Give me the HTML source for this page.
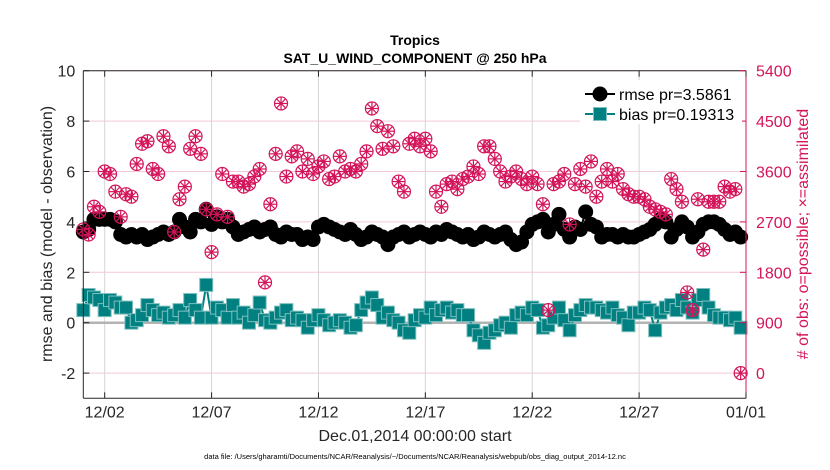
<!DOCTYPE html>
<html><head><meta charset="utf-8"><style>
body{margin:0;background:#fff;}
svg{display:block;font-family:"Liberation Sans",Arial,sans-serif;}
</style></head><body>
<svg id="chart" width="830" height="470" viewBox="0 0 830 470" xmlns="http://www.w3.org/2000/svg">
<rect width="830" height="470" fill="#fff"/>
<text x="415" y="45" text-anchor="middle" font-size="14" font-weight="bold">Tropics</text>
<text x="415" y="63" text-anchor="middle" font-size="14" font-weight="bold">SAT_U_WIND_COMPONENT @ 250 hPa</text>
<g id="grid"></g>
<g id="marks"></g>
<g id="axes"></g>
<text transform="translate(52,234) rotate(-90)" text-anchor="middle" font-size="16" fill="#262626">rmse and bias (model - observation)</text>
<text transform="translate(808,234) rotate(-90)" text-anchor="middle" font-size="16" fill="#d4145a">#  of obs: o=possible; ×=assimilated</text>
<text x="415" y="441" text-anchor="middle" font-size="16" fill="#262626">Dec.01,2014 00:00:00 start</text>
<text x="415" y="459" text-anchor="middle" font-size="7.5" fill="#000">data file: /Users/gharamti/Documents/NCAR/Reanalysis/~/Documents/NCAR/Reanalysis/webpub/obs_diag_output_2014-12.nc</text>
<g id="legend">
<rect x="580" y="80" width="162" height="44" fill="#fff"/>
<line x1="585" y1="94" x2="615" y2="94" stroke="#000" stroke-width="2"/>
<circle cx="600" cy="94" r="7.5" fill="#000"/>
<text x="619" y="100" font-size="16" fill="#000">rmse pr=3.5861</text>
<line x1="585" y1="114" x2="615" y2="114" stroke="#008080" stroke-width="2"/>
<rect x="593.5" y="107.5" width="13" height="13" fill="#008080" stroke="#7fbfbf" stroke-width="1"/>
<text x="619" y="120" font-size="16" fill="#000">bias pr=0.19313</text>
</g>
</svg>
<script>
const rmse=[3.6,3.7,4.1,4.1,4.1,4.1,4.0,3.5, 3.4,3.5,3.4,3.5,3.3,3.4,3.5,3.6, 3.5,3.6,4.1,3.8,3.6,4.1,4.0,4.5, 3.9,4.2,4.0,4.1,3.8,3.5,3.6,3.7, 3.8,3.6,3.7,3.8,3.5,3.4,3.6,3.5, 3.5,3.3,3.4,3.3,3.8,3.9,3.8,3.7, 3.6,3.5,3.7,3.5,3.3,3.4,3.6,3.5, 3.4,3.1,3.4,3.5,3.6,3.4,3.5,3.6, 3.5,3.4,3.6,3.5,3.7,3.6,3.5,3.4, 3.5,3.3,3.4,3.6,3.5,3.4,3.5,3.6, 3.3,3.1,3.2,3.6,3.9,4.0,4.1,3.6, 3.9,4.3,3.7,3.4,3.8,3.7,4.4,3.9, 3.8,3.4,3.5,3.5,3.4,3.5,3.4,3.4, 3.5,3.6,3.7,3.9,4.1,4.0,3.4,3.7, 4.0,3.8,3.4,3.6,3.9,4.0,4.0,3.9, 3.7,3.5,3.6,3.4];
const bias=[0.5,1.1,1.0,0.9,0.5,0.9,0.8,0.6, 0.6,0.0,0.1,0.3,0.7,0.5,0.3,0.4, 0.2,0.3,0.5,0.2,0.9,0.5,0.2,1.5, 0.2,0.6,0.5,0.2,0.7,0.2,0.4,0.0, 0.3,0.8,0.1,0.0,0.2,0.4,0.5,0.1, 0.2,0.1,-0.2,0.1,0.3,0.1,-0.1,0.0, 0.1,0.0,-0.2,-0.1,0.5,0.8,1.0,0.7, 0.2,0.4,0.1,0.0,-0.3,-0.4,0.1,0.3, 0.2,0.6,0.3,0.5,0.6,0.4,0.5,0.3, 0.3,-0.3,-0.5,-0.8,-0.4,-0.3,-0.1,0.0, -0.2,0.3,0.4,0.3,0.6,0.5,-0.2,-0.1, 0.2,0.6,0.1,-0.3,0.3,0.5,0.7,0.6, 0.6,0.5,0.4,0.6,0.3,0.2,-0.1,0.4, 0.4,0.6,0.5,-0.3,0.4,0.6,0.7,0.5, 0.9,0.6,0.4,0.9,1.1,0.6,0.3,0.2, 0.2,0.1,0.2,-0.2];
const obsLeftUnits=[3.7,3.5,4.6,4.4,6.0,5.9,5.2,4.2, 5.1,5.0,6.3,7.1,7.2,6.1,5.9,7.4, 7.0,3.6,4.9,5.4,6.9,7.4,6.7,4.5, 2.8,4.3,5.9,4.2,5.6,5.6,5.4,5.5, 5.8,6.1,1.6,4.7,6.7,8.7,5.8,6.6, 6.8,6.0,6.5,5.9,6.2,6.4,5.7,5.8, 6.6,6.0,6.1,6.0,6.3,6.8,8.5,7.8, 6.9,7.6,7.0,5.6,5.2,7.1,7.3,7.0, 7.3,6.8,5.2,4.6,5.5,5.6,5.3,5.7, 5.8,6.2,5.9,7.0,7.0,6.5,6.0,5.6, 5.8,6.0,5.7,5.5,5.8,5.5,4.7,0.5, 5.5,5.6,5.9,3.9,5.5,6.1,5.4,6.4, 5.0,5.6,6.1,5.6,5.9,5.3,5.1,5.0, 5.0,4.9,4.6,4.5,4.4,4.3,5.7,5.3, 4.8,1.2,0.5,4.9,2.9,4.8,4.8,4.8, 5.4,5.2,5.3,-2];
const obsCounts=obsLeftUnits.map(v=>Math.round((v+2)*450));
const leftTicks=[-2,0,2,4,6,8,10];
const rightTicks=[0,900,1800,2700,3600,4500,5400];
const xTickDays=[1,6,11,16,21,26,31];
const xTickLabels=['12/02','12/07','12/12','12/17','12/22','12/27','01/01'];

const L=83.3,R=746,T=70.7,B=398.3;
const X=d=>L+(d/31)*(R-L);
const Y=v=>T+(10-v)/13*(B-T);
const Y2=c=>Y(c/450-2);
const NS='http://www.w3.org/2000/svg';
function mk(tag,attrs,parent){const e=document.createElementNS(NS,tag);for(const k in attrs)e.setAttribute(k,attrs[k]);parent.appendChild(e);return e;}
const grid=document.getElementById('grid'),marks=document.getElementById('marks'),axes=document.getElementById('axes');
rightTicks.forEach(c=>{const l=mk('line',{x1:L,x2:R,y1:Y2(c),y2:Y2(c),stroke:'#f2c9d9','stroke-width':1},grid);

});
xTickDays.forEach(d=>{const l=mk('line',{x1:X(d),x2:X(d),y1:T,y2:B,stroke:'#d6d6d6','stroke-width':1},grid);

});
const z=mk('line',{x1:L,x2:R,y1:Y(0),y2:Y(0),stroke:'#b3b3b3','stroke-width':2.5},grid);


const dayOf=i=>i*0.25;
const rp=mk('polyline',{points:rmse.map((v,i)=>X(dayOf(i))+','+Y(v)).join(' '),fill:'none',stroke:'#000','stroke-width':2},marks);


rmse.forEach((v,i)=>{const c=mk('circle',{cx:X(dayOf(i)),cy:Y(v),r:7.5,fill:'#000'},marks);

});
const bp=mk('polyline',{points:bias.map((v,i)=>X(dayOf(i))+','+Y(v)).join(' '),fill:'none',stroke:'#008080','stroke-width':2},marks);


bias.forEach((v,i)=>{const s=mk('rect',{x:X(dayOf(i))-6.5,y:Y(v)-6.5,width:13,height:13,fill:'#008080',stroke:'#7fbfbf','stroke-width':1},marks);

});
obsCounts.forEach((c,i)=>{const cx=X(dayOf(i)),cy=Y2(c);
const g=mk('g',{stroke:'#d4145a','stroke-width':1.2,fill:'none'},marks);


mk('circle',{cx:cx,cy:cy,r:6.5},g);
mk('line',{x1:cx-6.5,x2:cx+6.5,y1:cy,y2:cy},g);
mk('line',{x1:cx,x2:cx,y1:cy-6.5,y2:cy+6.5},g);
mk('line',{x1:cx-4.6,x2:cx+4.6,y1:cy-4.6,y2:cy+4.6},g);
mk('line',{x1:cx-4.6,x2:cx+4.6,y1:cy+4.6,y2:cy-4.6},g);});
mk('line',{x1:L,x2:R,y1:T,y2:T,stroke:'#262626','stroke-width':1},axes);
mk('line',{x1:L,x2:R,y1:B,y2:B,stroke:'#262626','stroke-width':1},axes);
mk('line',{x1:L,x2:L,y1:T,y2:B,stroke:'#262626','stroke-width':1},axes);
mk('line',{x1:R,x2:R,y1:T,y2:B,stroke:'#d4145a','stroke-width':1},axes);
leftTicks.forEach(v=>{mk('line',{x1:L,x2:L+6,y1:Y(v),y2:Y(v),stroke:'#262626'},axes);
const t=mk('text',{x:L-8,y:Y(v)+6,'text-anchor':'end','font-size':16,fill:'#262626'},axes);t.textContent=v;

});
rightTicks.forEach(c=>{mk('line',{x1:R-6,x2:R,y1:Y2(c),y2:Y2(c),stroke:'#d4145a'},axes);
const t=mk('text',{x:R+10,y:Y2(c)+6,'font-size':16,fill:'#d4145a'},axes);t.textContent=c;

});
xTickDays.forEach((d,k)=>{mk('line',{x1:X(d),x2:X(d),y1:B-6,y2:B,stroke:'#262626'},axes);
mk('line',{x1:X(d),x2:X(d),y1:T,y2:T+6,stroke:'#262626'},axes);
const t=mk('text',{x:X(d),y:B+19,'text-anchor':'middle','font-size':16,fill:'#262626'},axes);t.textContent=xTickLabels[k];

});
</script>
</body></html>
